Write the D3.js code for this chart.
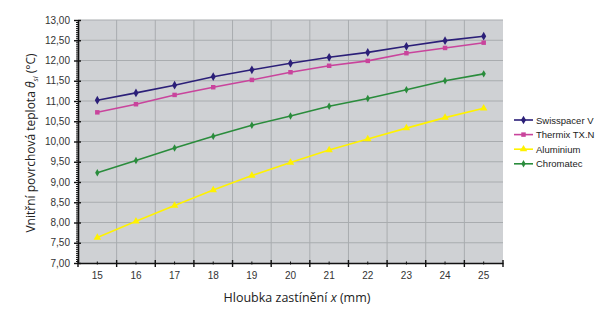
<!DOCTYPE html>
<html>
<head>
<meta charset="utf-8">
<script src="https://cdn.jsdelivr.net/npm/d3@7"></script>
<style>
  body { margin: 0; background: #fff; }
  svg { display: block; }
</style>
</head>
<body>
<svg id="chart" width="600" height="309"></svg>
<script>
// Data
const depths = [15, 16, 17, 18, 19, 20, 21, 22, 23, 24, 25];
const swisspacer = [11.02, 11.20, 11.39, 11.60, 11.77, 11.93, 12.08, 12.20, 12.35, 12.49, 12.60];
const thermix = [10.72, 10.92, 11.15, 11.34, 11.52, 11.71, 11.87, 11.99, 12.18, 12.31, 12.44];
const aluminium = [7.63, 8.03, 8.42, 8.80, 9.16, 9.48, 9.79, 10.06, 10.33, 10.59, 10.82];
const chromatec = [9.23, 9.53, 9.84, 10.13, 10.40, 10.63, 10.87, 11.06, 11.28, 11.50, 11.67];
const yTicks = [7, 7.5, 8, 8.5, 9, 9.5, 10, 10.5, 11, 11.5, 12, 12.5, 13];

const series = [
  { name: 'Swisspacer V', values: swisspacer, color: '#2b1f78', marker: 'diamond' },
  { name: 'Thermix TX.N', values: thermix, color: '#c9449c', marker: 'square' },
  { name: 'Aluminium', values: aluminium, color: '#fff200', marker: 'triangle' },
  { name: 'Chromatec', values: chromatec, color: '#2a8c3c', marker: 'small' }
];

const margin = { top: 20, left: 78, right: 97, bottom: 46 };
const width = 600, height = 309;
const innerW = width - margin.left - margin.right;
const innerH = height - margin.top - margin.bottom;

const svg = d3.select('#chart');
const g = svg.append('g').attr('transform', `translate(${margin.left},${margin.top})`);

const x = d3.scaleBand().domain(depths).range([0, innerW]);
const y = d3.scaleLinear().domain([7, 13]).range([innerH, 0]);
const cx = d => x(d) + x.bandwidth() / 2;

// Plot background
g.append('rect')
  .attr('width', innerW).attr('height', innerH)
  .attr('fill', '#cfd1d4');

// Horizontal gridlines
g.selectAll('.hgrid')
  .data(yTicks.slice(1))
  .enter().append('line')
  .attr('x1', 0).attr('x2', innerW)
  .attr('y1', d => y(d)).attr('y2', d => y(d))
  .attr('stroke', '#a9acaf').attr('stroke-width', 1);

// Vertical gridlines at category boundaries
g.selectAll('.vgrid')
  .data(depths.slice(1))
  .enter().append('line')
  .attr('x1', d => x(d)).attr('x2', d => x(d))
  .attr('y1', 0).attr('y2', innerH)
  .attr('stroke', '#a9acaf').attr('stroke-width', 1);

// Y axis with minor ticks
const yMinor = d3.range(7, 13.001, 0.05);
g.append('g')
  .call(d3.axisLeft(y).tickValues(yMinor).tickSize(2).tickFormat(''))
  .call(a => a.select('.domain').remove())
  .selectAll('line').attr('stroke', '#111');

const yAxis = g.append('g')
  .call(d3.axisLeft(y).tickValues(yTicks).tickSizeInner(4).tickSizeOuter(0)
    .tickPadding(4).tickFormat(d => d3.format('.2f')(d).replace('.', ',')));
yAxis.select('.domain').attr('stroke', '#111').attr('stroke-width', 1.6);
yAxis.selectAll('.tick line').attr('stroke', '#111').attr('stroke-width', 1.4).attr('x2', 3).attr('x1', -4);
yAxis.selectAll('text')
  .style('font-family', 'Liberation Sans, Arial, sans-serif')
  .style('font-size', '10px').attr('fill', '#333');

// X axis
const xAxis = g.append('g')
  .attr('transform', `translate(0,${innerH})`)
  .call(d3.axisBottom(x).tickSize(0).tickPadding(9));
xAxis.select('.domain').attr('stroke', '#111').attr('stroke-width', 1.6);
xAxis.selectAll('text')
  .style('font-family', 'Liberation Sans, Arial, sans-serif')
  .style('font-size', '10px').attr('fill', '#333');

// major ticks at boundaries, minor at centres
const bounds = depths.map(d => x(d)).concat([innerW]);
g.selectAll('.xmaj')
  .data(bounds)
  .enter().append('line')
  .attr('x1', d => d).attr('x2', d => d)
  .attr('y1', innerH - 3).attr('y2', innerH + 4)
  .attr('stroke', '#111').attr('stroke-width', 1.4);
g.selectAll('.xmin')
  .data(depths)
  .enter().append('line')
  .attr('x1', d => cx(d)).attr('x2', d => cx(d))
  .attr('y1', innerH - 1.5).attr('y2', innerH + 1.5)
  .attr('stroke', '#111').attr('stroke-width', 1);

// Series
const markerPath = {
  diamond: d3.symbol().type(d3.symbolDiamond).size(22)(),
  small: d3.symbol().type(d3.symbolDiamond).size(16)(),
  square: d3.symbol().type(d3.symbolSquare).size(20)(),
  triangle: d3.symbol().type(d3.symbolTriangle).size(24)()
};

const line = d3.line()
  .x((d, i) => cx(depths[i]))
  .y(d => y(d));

series.forEach(s => {
  g.append('path')
    .datum(s.values)
    .attr('fill', 'none')
    .attr('stroke', s.color)
    .attr('stroke-width', 1.6)
    .attr('d', line);

  g.selectAll(null)
    .data(s.values)
    .enter().append('path')
    .attr('d', markerPath[s.marker])
    .attr('transform', (d, i) => `translate(${cx(depths[i])},${y(d)})`)
    .attr('fill', s.color);
});

// Legend
const legend = svg.append('g').attr('transform', 'translate(514,120)');
series.forEach((s, i) => {
  const row = legend.append('g').attr('transform', `translate(0,${i * 14.6})`);
  row.append('line')
    .attr('x1', 0).attr('x2', 19)
    .attr('stroke', s.color).attr('stroke-width', 1.6);
  row.append('path')
    .attr('d', markerPath[s.marker])
    .attr('transform', 'translate(9.5,0)')
    .attr('fill', s.color);
  row.append('text')
    .attr('x', 22).attr('y', 3.5)
    .style('font-family', 'Liberation Sans, Arial, sans-serif')
    .style('font-size', '9.5px')
    .attr('fill', '#222')
    .text(s.name);
});

// Axis titles
svg.append('text')
  .attr('x', 297)
  .attr('y', 302)
  .attr('text-anchor', 'middle')
  .style('font-family', 'Open Sans, Lato, sans-serif')
  .style('font-size', '12.5px')
  .attr('fill', '#222')
  .html('Hloubka zastínění <tspan font-style="italic">x</tspan> (mm)');

svg.append('text')
  .attr('transform', 'translate(35,143) rotate(-90)')
  .attr('text-anchor', 'middle')
  .style('font-family', 'Open Sans, Lato, sans-serif')
  .style('font-size', '12px')
  .attr('fill', '#222')
  .html('Vnitřní povrchová teplota <tspan font-style="italic">θ</tspan><tspan font-size="7.5px" font-style="italic" dy="3">si</tspan><tspan dy="-3"> (°C)</tspan>');
</script>
</body>
</html>
